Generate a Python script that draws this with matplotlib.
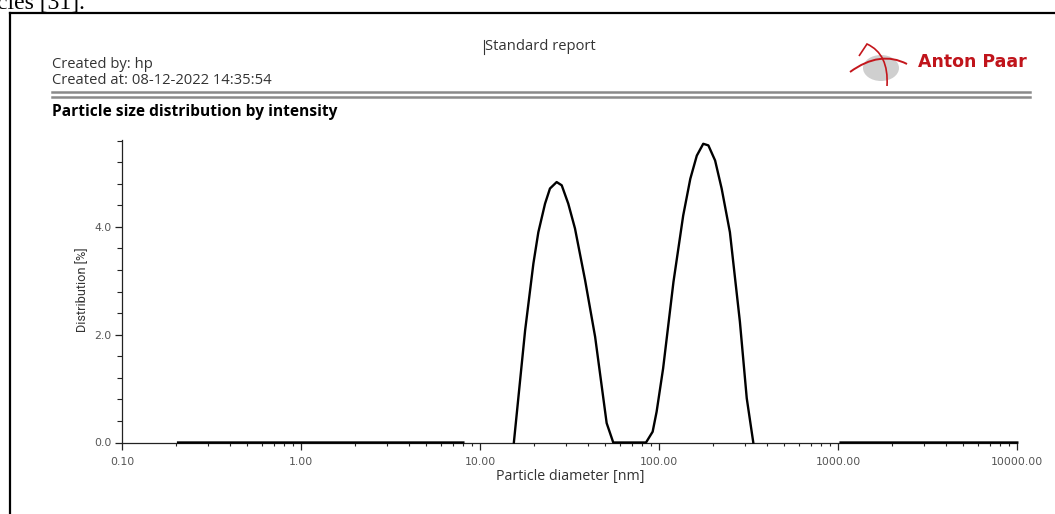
import matplotlib

matplotlib.use("Agg")
import matplotlib.pyplot as plt
import numpy as np
from matplotlib.patches import Ellipse, PathPatch
from matplotlib.path import Path
from matplotlib.ticker import LogLocator, MultipleLocator, NullFormatter

W, H = 1055, 514
NAN = float("nan")

# particle diameter [nm] and intensity distribution [%]
size_nm = [0.205, 8.04, 8.05,
           15.4, 17.8, 19.8, 21.1, 23.0, 24.5, 26.7, 28.5, 31.0, 33.8, 38.5, 43.8, 50.8, 55.3,
           84.3, 91.8, 96.6, 105, 120, 136, 149, 162, 176, 188, 205, 223, 248, 282, 308, 335,
           336, 1030, 10000]
dist_pct = [0.0, 0.0, NAN,
            0.0, 2.08, 3.32, 3.90, 4.43, 4.71, 4.83, 4.77, 4.43, 3.97, 3.01, 1.96, 0.36, 0.0,
            0.0, 0.20, 0.57, 1.37, 2.98, 4.21, 4.89, 5.32, 5.54, 5.51, 5.23, 4.71, 3.90, 2.24, 0.82, 0.0,
            NAN, 0.0, 0.0]

x_ticks = [0.1, 1, 10, 100, 1000, 10000]
x_tick_labels = ["0.10", "1.00", "10.00", "100.00", "1000.00", "10000.00"]
y_ticks = [0.0, 2.0, 4.0]
y_tick_labels = ["0.0", "2.0", "4.0"]

HEAD_FONT = ["Open Sans", "DejaVu Sans"]
RED = "#c0141b"

fig = plt.figure(figsize=(W / 100, H / 100), dpi=100)

# pixel-space overlay for the report page decorations
deco = fig.add_axes([0, 0, 1, 1])
deco.set_xlim(0, W)
deco.set_ylim(H, 0)
deco.axis("off")

deco.text(-3, 9, "cles [31].", family=["Liberation Serif", "DejaVu Serif"], fontsize=17,
          ha="left", va="baseline", color="black")
deco.plot([10, W + 5], [13, 13], color="black", lw=1.6, solid_capstyle="projecting")
deco.plot([10, 10], [13, H + 5], color="black", lw=1.6, solid_capstyle="projecting")

deco.text(540, 46, "Standard report", family=HEAD_FONT, fontsize=10.6, ha="center", va="center",
          color="#333333")
deco.plot([484, 484], [40, 54], color="#333333", lw=0.8)
deco.text(52, 64, "Created by: hp", family=HEAD_FONT, fontsize=10.6, ha="left", va="center",
          color="#333333")
deco.text(52, 81, "Created at: 08-12-2022 14:35:54", family=HEAD_FONT, fontsize=10.6, ha="left",
          va="center", color="#333333")
deco.plot([52, 1030], [92, 92], color="#8a8a8a", lw=1.8)
deco.plot([52, 1030], [96.5, 96.5], color="#8a8a8a", lw=1.8)
deco.text(52, 112, "Particle size distribution by intensity", family=HEAD_FONT, fontsize=11.2,
          fontweight="bold", ha="left", va="center", color="black")

# Anton Paar logo
deco.add_patch(Ellipse((881, 68), 36, 26, color="#cfcfcf", lw=0))
swoosh = Path([(850, 72), (880, 50), (907, 64)], [Path.MOVETO, Path.CURVE3, Path.CURVE3])
deco.add_patch(PathPatch(swoosh, fill=False, edgecolor="#c4161c", lw=1.4))
loop = Path([(859, 56), (867, 44), (889, 54), (887, 86)],
            [Path.MOVETO, Path.LINETO, Path.CURVE3, Path.CURVE3])
deco.add_patch(PathPatch(loop, fill=False, edgecolor="#c4161c", lw=1.2))
deco.text(918, 62, "Anton Paar", family="DejaVu Sans", fontsize=12.5, fontweight="bold",
          ha="left", va="center", color=RED)

# distribution chart
ax = fig.add_axes([122.3 / W, (H - 442.5) / H, 895 / W, 302.5 / H])
ax.patch.set_alpha(0)
ax.plot(size_nm, dist_pct, color="black", lw=1.7, solid_joinstyle="round", clip_on=False, zorder=3)
ax.set_xscale("log")
ax.set_xlim(0.1, 10000)
ax.set_ylim(0, 5.61)

for side in ("top", "right"):
    ax.spines[side].set_visible(False)
for side in ("left", "bottom"):
    ax.spines[side].set_color("#222222")
    ax.spines[side].set_linewidth(0.9)

ax.set_xticks(x_ticks, x_tick_labels)
ax.xaxis.set_minor_locator(LogLocator(base=10, subs=np.arange(2, 10)))
ax.xaxis.set_minor_formatter(NullFormatter())
ax.set_yticks(y_ticks, y_tick_labels)
ax.yaxis.set_minor_locator(MultipleLocator(0.4))

ax.tick_params(axis="x", which="major", direction="out", length=4.8, width=0.9, pad=5.5,
               labelsize=7.8, labelcolor="#555555", color="#222222")
ax.tick_params(axis="x", which="minor", direction="out", length=2.4, width=0.8, color="#222222")
ax.tick_params(axis="y", which="major", direction="out", length=5, width=0.9, pad=3,
               labelsize=7.8, labelcolor="#555555", color="#222222")
ax.tick_params(axis="y", which="minor", direction="out", length=3.8, width=0.8, color="#222222")

ax.set_xlabel("Particle diameter [nm]", family=HEAD_FONT, fontsize=10.3, color="#333333")
ax.xaxis.label.set_va("center")
ax.xaxis.set_label_coords(0.5, -0.111)
ax.set_ylabel("Distribution [%]", family=["Roboto", "DejaVu Sans"], fontsize=9.2,
              color="#333333")
ax.yaxis.label.set_va("center")
ax.yaxis.set_label_coords(-0.044, 0.504)

fig.savefig("out.png", dpi=100)
